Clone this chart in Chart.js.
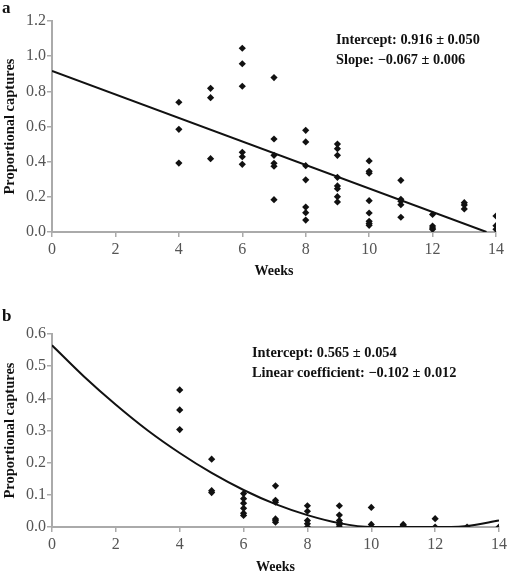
<!DOCTYPE html>
<html>
<head>
<meta charset="utf-8">
<script src="https://cdn.jsdelivr.net/npm/chart.js@4/dist/chart.umd.min.js"></script>
<style>
    body { margin: 0; background: #fff; }
    #wrap { position: relative; width: 510px; height: 571px; font-family: "Liberation Serif", "DejaVu Serif", serif; }
    .panel { position: absolute; left: 0; width: 510px; }
    .lbl { position: absolute; font-weight: bold; color: #111; white-space: nowrap; }
</style>
</head>
<body>
<div id="wrap">
    <div class="panel" style="top:0;height:280px"><canvas id="chartA"></canvas></div>
    <div class="panel" style="top:280px;height:291px"><canvas id="chartB"></canvas></div>
    <div class="lbl" style="left:2px;top:-2px;font-size:17px">a</div>
    <div class="lbl" style="left:336px;top:31px;font-size:14.3px">Intercept: 0.916 ± 0.050</div>
    <div class="lbl" style="left:336px;top:51px;font-size:14.3px">Slope: −0.067 ± 0.006</div>
    <div class="lbl" style="left:2px;top:306px;font-size:17px">b</div>
    <div class="lbl" style="left:252px;top:344px;font-size:14.4px">Intercept: 0.565 ± 0.054</div>
    <div class="lbl" style="left:252px;top:364px;font-size:14.4px">Linear coefficient: −0.102 ± 0.012</div>
</div>
<script>
document.addEventListener("DOMContentLoaded", function () {
    const SERIF = "'Liberation Serif', 'DejaVu Serif', serif";

    // Panel a: observed proportional captures by week
    const weeksA = [4, 4, 4,
        5, 5, 5,
        6, 6, 6, 6, 6, 6,
        7, 7, 7, 7, 7, 7,
        8, 8, 8, 8, 8, 8, 8,
        9, 9, 9, 9, 9, 9, 9, 9,
        10, 10, 10, 10, 10, 10, 10, 10,
        11, 11, 11, 11, 11,
        12, 12, 12, 12,
        13, 13, 13,
        14, 14, 14];
    const capturesA = [0.738, 0.584, 0.392,
        0.817, 0.764, 0.417,
        1.045, 0.957, 0.829, 0.453, 0.428, 0.385,
        0.878, 0.529, 0.436, 0.391, 0.374, 0.184,
        0.578, 0.512, 0.377, 0.297, 0.142, 0.110, 0.068,
        0.500, 0.474, 0.436, 0.311, 0.262, 0.246, 0.201, 0.171,
        0.404, 0.345, 0.334, 0.178, 0.108, 0.061, 0.049, 0.038,
        0.294, 0.186, 0.175, 0.155, 0.084,
        0.100, 0.034, 0.023, 0.015,
        0.167, 0.154, 0.131,
        0.091, 0.036, 0.015];
    // fitted line end points
    const fitWeeksA = [0, 13.7];
    const fitValuesA = [0.916, 0];

    // Panel b
    const weeksB = [4, 4, 4,
        5, 5, 5,
        6, 6, 6, 6, 6, 6,
        7, 7, 7, 7, 7, 7,
        8, 8, 8, 8, 8,
        9, 9, 9, 9, 9, 9,
        10, 10, 10,
        11, 11, 11,
        12, 12,
        13,
        14];
    const capturesB = [0.426, 0.364, 0.303,
        0.211, 0.113, 0.107,
        0.104, 0.088, 0.074, 0.058, 0.043, 0.036,
        0.128, 0.083, 0.077, 0.025, 0.021, 0.015,
        0.066, 0.049, 0.020, 0.010, 0.0,
        0.066, 0.037, 0.020, 0.013, 0.007, 0.0,
        0.061, 0.008, 0.0,
        0.008, 0.004, 0.0,
        0.026, 0.0,
        0.0,
        0.0];
    // fitted curve
    const fitWeeksB = [0, 1, 2, 3, 4, 5, 6, 7, 8, 9, 10, 11, 12, 12.5, 13, 14];
    const fitValuesB = [0.565, 0.468, 0.380, 0.300, 0.230, 0.168, 0.115, 0.071, 0.037, 0.012, 0.0, 0.0, 0.0, 0.0, 0.003, 0.020];

    const xTicks = [0, 2, 4, 6, 8, 10, 12, 14];

    function toPoints(xs, ys) {
        return xs.map((x, i) => ({ x: x, y: ys[i] }));
    }

    function makeChart(id, opts) {
        const el = document.getElementById(id);
        return new Chart(el.getContext("2d"), {
            type: "scatter",
            data: {
                datasets: [{
                    data: toPoints(opts.weeks, opts.values),
                    pointStyle: "rectRot",
                    pointRadius: 3.6,
                    backgroundColor: "#111",
                    borderColor: "#111",
                    borderWidth: 0,
                    order: 1
                }, {
                    type: "line",
                    data: toPoints(opts.fitX, opts.fitY),
                    borderColor: "#111",
                    borderWidth: 2,
                    pointRadius: 0,
                    tension: opts.tension,
                    cubicInterpolationMode: opts.tension ? "monotone" : "default",
                    fill: false,
                    order: 2
                }]
            },
            options: {
                responsive: true,
                maintainAspectRatio: false,
                animation: false,
                layout: { padding: opts.padding },
                plugins: { legend: { display: false }, tooltip: { enabled: false } },
                scales: {
                    x: {
                        type: "linear",
                        min: 0, max: 14,
                        afterBuildTicks: s => { s.ticks = xTicks.map(v => ({ value: v })); },
                        afterFit: s => { s.height = opts.xHeight; },
                        grid: { drawOnChartArea: false, drawTicks: true, tickLength: 5, color: "#aaa", lineWidth: 1.5 },
                        border: { color: "#aaa", width: 2 },
                        ticks: { color: "#555", padding: 3, font: { family: SERIF, size: 16 } },
                        title: { display: true, text: "Weeks", color: "#111", padding: { top: 2, bottom: opts.titlePad },
                                 font: { family: SERIF, size: 14, weight: "bold" } }
                    },
                    y: {
                        min: 0, max: opts.yMax,
                        afterFit: s => { s.width = 52; },
                        grid: { drawOnChartArea: false, drawTicks: true, tickLength: 5, color: "#aaa", lineWidth: 1.5 },
                        border: { color: "#aaa", width: 2 },
                        ticks: { stepSize: opts.yStep, color: "#555", padding: 1,
                                 callback: v => v.toFixed(1),
                                 font: { family: SERIF, size: 16 } },
                        title: { display: true, text: "Proportional captures", color: "#111", padding: { top: 2, bottom: 0 },
                                 font: { family: SERIF, size: 14.5, weight: "bold" } }
                    }
                }
            }
        });
    }

    makeChart("chartA", {
        weeks: weeksA, values: capturesA, fitX: fitWeeksA, fitY: fitValuesA, tension: 0,
        yMax: 1.2, yStep: 0.2, xHeight: 48, titlePad: 0,
        padding: { top: 21, right: 14, bottom: 0, left: 0 }
    });
    makeChart("chartB", {
        weeks: weeksB, values: capturesB, fitX: fitWeeksB, fitY: fitValuesB, tension: 0.4,
        yMax: 0.6, yStep: 0.1, xHeight: 44, titlePad: -5,
        padding: { top: 54, right: 8, bottom: 0, left: 0 }
    });
});
</script>
</body>
</html>
